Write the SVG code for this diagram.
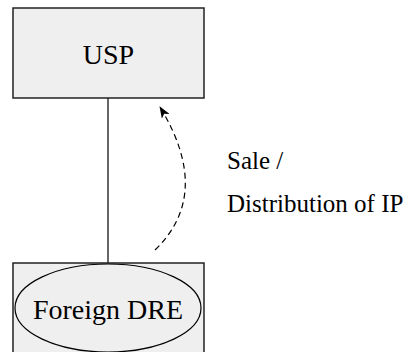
<svg xmlns="http://www.w3.org/2000/svg" width="408" height="352" viewBox="0 0 408 352">
<style>
.box{fill:#efefef;stroke:#222;stroke-width:1.5}
.t{font-family:"Liberation Serif","Times New Roman",serif;fill:#000}
.edge{fill:none;stroke:#000;stroke-width:1.2}
</style>
<defs>
<marker id="ah" viewBox="0 0 12 9" refX="11" refY="4.5" markerWidth="12" markerHeight="9" markerUnits="userSpaceOnUse" orient="auto">
<path d="M0,0 L12,4.5 L0,9 L3,4.5 Z" fill="#000"/>
</marker>
</defs>
<g id="connectors">
<line class="edge" x1="108" y1="98" x2="108" y2="263"/>
<path class="edge" d="M155,250 Q213,194 160,107" stroke-dasharray="6,4" stroke-width="1.5" marker-end="url(#ah)"/>
</g>
<g id="usp">
<rect class="box" x="13" y="8" width="191" height="90"/>
<text class="t" x="108.5" y="64" font-size="28" text-anchor="middle">USP</text>
</g>
<g id="foreign">
<rect class="box" x="13" y="263" width="191" height="100"/>
<ellipse cx="108" cy="308" rx="93" ry="44" fill="none" stroke="#000" stroke-width="1.2"/>
<text class="t" x="108" y="319" font-size="28" text-anchor="middle">Foreign DRE</text>
</g>
<g id="label">
<text class="t" x="227" y="169" font-size="25">Sale /</text>
<text class="t" x="227" y="212" font-size="25">Distribution of IP</text>
</g>
</svg>
